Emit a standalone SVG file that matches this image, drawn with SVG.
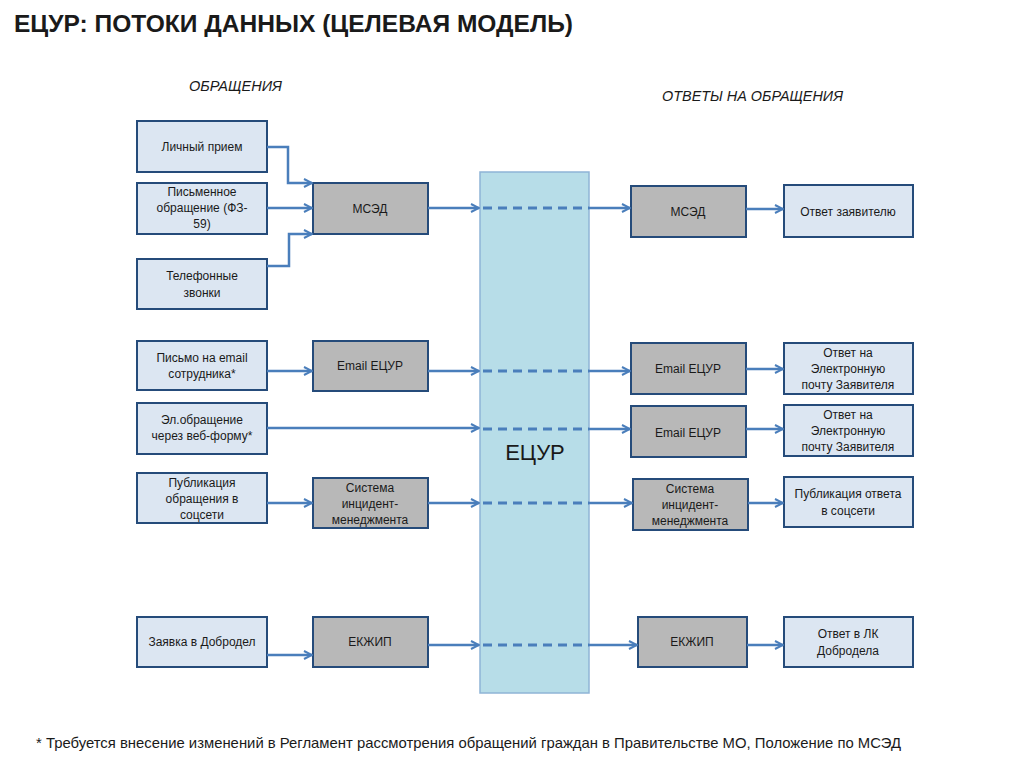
<svg xmlns="http://www.w3.org/2000/svg" width="1024" height="767" viewBox="0 0 1024 767">
<defs>
<marker id="arr" viewBox="0 0 10 10" refX="9" refY="5" markerWidth="10" markerHeight="10" markerUnits="userSpaceOnUse" orient="auto">
<path d="M1,1 L9,5 L1,9" fill="none" stroke="#4a7ebb" stroke-width="2"/>
</marker>
<style>
.in{fill:#dce6f2;stroke:#254b7a;stroke-width:2}
.gr{fill:#b8b8b8;stroke:#254b7a;stroke-width:2}
.t{font-family:"Liberation Sans",Arial,sans-serif;font-size:12px;fill:#1a1a1a;text-anchor:middle}
.ln{fill:none;stroke:#4a7ebb;stroke-width:2.5}
.dash{fill:none;stroke:#4a7ebb;stroke-width:3;stroke-dasharray:9 6}
.hd{font-family:"Liberation Sans",Arial,sans-serif;font-style:italic;font-size:14px;fill:#1a1a1a}
</style>
</defs>
<rect width="1024" height="767" fill="#ffffff"/>
<text x="14" y="32" font-family="Liberation Sans,Arial,sans-serif" font-weight="bold" font-size="23" fill="#1a1a1a" textLength="559" lengthAdjust="spacingAndGlyphs">ЕЦУР: ПОТОКИ ДАННЫХ (ЦЕЛЕВАЯ МОДЕЛЬ)</text>
<text class="hd" x="189" y="91" textLength="93" lengthAdjust="spacingAndGlyphs">ОБРАЩЕНИЯ</text>
<text class="hd" x="662" y="101" textLength="181" lengthAdjust="spacingAndGlyphs">ОТВЕТЫ НА ОБРАЩЕНИЯ</text>

<g id="ecur">
<rect x="480" y="172" width="109" height="521" fill="#b7dde8" stroke="#8fb4d6" stroke-width="1.5"/>
<text x="535" y="460" font-family="Liberation Sans,Arial,sans-serif" font-size="22" fill="#1a1a1a" text-anchor="middle">ЕЦУР</text>
</g>

<g id="in1"><rect class="in" x="137" y="121" width="130" height="51"/><text class="t" x="202" y="151">Личный прием</text></g>
<g id="in2"><rect class="in" x="137" y="183" width="130" height="51"/><text class="t" x="202" y="196">Письменное</text><text class="t" x="202" y="212">обращение (ФЗ-</text><text class="t" x="202" y="228">59)</text></g>
<g id="in3"><rect class="in" x="137" y="259" width="130" height="50"/><text class="t" x="202" y="280">Телефонные</text><text class="t" x="202" y="297">звонки</text></g>
<g id="in4"><rect class="in" x="137" y="341" width="130" height="49"/><text class="t" x="202" y="362">Письмо на email</text><text class="t" x="202" y="378">сотрудника*</text></g>
<g id="in5"><rect class="in" x="137" y="403" width="130" height="51"/><text class="t" x="202" y="424">Эл.обращение</text><text class="t" x="202" y="440">через веб-форму*</text></g>
<g id="in6"><rect class="in" x="137" y="473" width="130" height="50"/><text class="t" x="202" y="487">Публикация</text><text class="t" x="202" y="503">обращения в</text><text class="t" x="202" y="519">соцсети</text></g>
<g id="in7"><rect class="in" x="137" y="617" width="130" height="50"/><text class="t" x="202" y="646">Заявка в Добродел</text></g>

<g id="l1"><rect class="gr" x="313" y="183" width="115" height="51"/><text class="t" x="370" y="213">МСЭД</text></g>
<g id="l2"><rect class="gr" x="313" y="341" width="115" height="50"/><text class="t" x="370" y="370">Email ЕЦУР</text></g>
<g id="l3"><rect class="gr" x="313" y="478" width="115" height="50"/><text class="t" x="370" y="492">Система</text><text class="t" x="370" y="508">инцидент-</text><text class="t" x="370" y="524">менеджмента</text></g>
<g id="l4"><rect class="gr" x="313" y="617" width="115" height="50"/><text class="t" x="370" y="646">ЕКЖИП</text></g>

<g id="r1"><rect class="gr" x="631" y="186" width="115" height="51"/><text class="t" x="688" y="216">МСЭД</text></g>
<g id="r2"><rect class="gr" x="631" y="343" width="115" height="51"/><text class="t" x="688" y="373">Email ЕЦУР</text></g>
<g id="r3"><rect class="gr" x="631" y="406" width="115" height="51"/><text class="t" x="688" y="437">Email ЕЦУР</text></g>
<g id="r4"><rect class="gr" x="633" y="479" width="115" height="51"/><text class="t" x="690" y="493">Система</text><text class="t" x="690" y="509">инцидент-</text><text class="t" x="690" y="525">менеджмента</text></g>
<g id="r5"><rect class="gr" x="638" y="617" width="109" height="50"/><text class="t" x="692" y="646">ЕКЖИП</text></g>

<g id="o1"><rect class="in" x="784" y="185" width="129" height="52"/><text class="t" x="848" y="216">Ответ заявителю</text></g>
<g id="o2"><rect class="in" x="784" y="343" width="129" height="51"/><text class="t" x="848" y="357">Ответ на</text><text class="t" x="848" y="373">Электронную</text><text class="t" x="848" y="389">почту Заявителя</text></g>
<g id="o3"><rect class="in" x="784" y="405" width="129" height="51"/><text class="t" x="848" y="419">Ответ на</text><text class="t" x="848" y="435">Электронную</text><text class="t" x="848" y="451">почту Заявителя</text></g>
<g id="o4"><rect class="in" x="784" y="477" width="129" height="50"/><text class="t" x="848" y="498">Публикация ответа</text><text class="t" x="848" y="515">в соцсети</text></g>
<g id="o5"><rect class="in" x="784" y="617" width="129" height="50"/><text class="t" x="848" y="638">Ответ в ЛК</text><text class="t" x="848" y="655">Добродела</text></g>

<g id="connectors">
<path class="ln" d="M267,147 H288 V183 H312" marker-end="url(#arr)"/>
<path class="ln" d="M267,208 H312" marker-end="url(#arr)"/>
<path class="ln" d="M267,266 H289 V234 H312" marker-end="url(#arr)"/>
<path class="ln" d="M428,208 H479" marker-end="url(#arr)"/>
<path class="dash" d="M483,208 H589"/>
<path class="ln" d="M589,208 H630" marker-end="url(#arr)"/>
<path class="ln" d="M746,209 H783" marker-end="url(#arr)"/>

<path class="ln" d="M267,371 H312" marker-end="url(#arr)"/>
<path class="ln" d="M428,371 H479" marker-end="url(#arr)"/>
<path class="dash" d="M483,371 H589"/>
<path class="ln" d="M589,371 H630" marker-end="url(#arr)"/>
<path class="ln" d="M746,369 H783" marker-end="url(#arr)"/>

<path class="ln" d="M267,428 H479" marker-end="url(#arr)"/>
<path class="dash" d="M483,429 H589"/>
<path class="ln" d="M589,429 H630" marker-end="url(#arr)"/>
<path class="ln" d="M746,429 H783" marker-end="url(#arr)"/>

<path class="ln" d="M267,503 H312" marker-end="url(#arr)"/>
<path class="ln" d="M428,503 H479" marker-end="url(#arr)"/>
<path class="dash" d="M483,503 H589"/>
<path class="ln" d="M589,503 H632" marker-end="url(#arr)"/>
<path class="ln" d="M748,503 H783" marker-end="url(#arr)"/>

<path class="ln" d="M267,655 H312" marker-end="url(#arr)"/>
<path class="ln" d="M428,645 H479" marker-end="url(#arr)"/>
<path class="dash" d="M483,645 H589"/>
<path class="ln" d="M589,645 H637" marker-end="url(#arr)"/>
<path class="ln" d="M747,645 H783" marker-end="url(#arr)"/>
</g>

<text x="36" y="748" font-family="Liberation Sans,Arial,sans-serif" font-size="15" fill="#1a1a1a" textLength="865" lengthAdjust="spacingAndGlyphs">* Требуется внесение изменений в Регламент рассмотрения обращений граждан в Правительстве МО, Положение по МСЭД</text>
</svg>
